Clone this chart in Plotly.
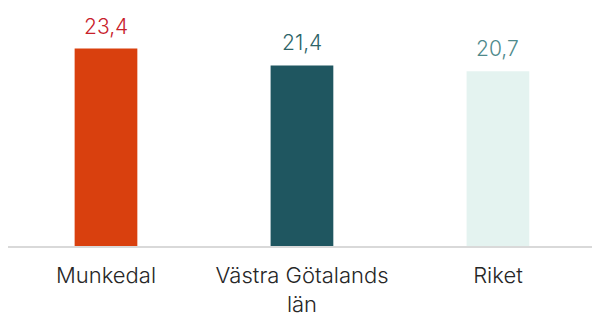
import plotly.graph_objects as go

categories = ["Munkedal", "Västra Götalands<br>län", "Riket"]
values = [23.4, 21.4, 20.7]
bar_colors = ["#D9400E", "#1F5660", "#E4F3F0"]
label_colors = ["#C8202A", "#2D6468", "#4F8A8C"]

FONT = "Inter"

fig = go.Figure()
fig.add_trace(go.Bar(
    x=categories, y=values, marker=dict(color=bar_colors, line=dict(width=0)),
    width=0.32, hoverinfo="skip",
))
for c, v, col in zip(categories, values, label_colors):
    fig.add_annotation(x=c, y=v, text=f"{v:.1f}".replace(".", ","), showarrow=False,
                       yanchor="bottom", yshift=8,
                       font=dict(size=21, color=col, family=FONT, weight=300))

fig.update_layout(
    width=592, height=316,
    margin=dict(l=8, r=0, t=35, b=70, autoexpand=False),
    plot_bgcolor="white", paper_bgcolor="white",
    showlegend=False,
    font=dict(family=FONT, size=22, color="#262626", weight=300),
    xaxis=dict(range=[-0.5, 2.48], showline=True, linecolor="#D9D9D9", linewidth=1.5,
               showgrid=False, zeroline=False, ticks="", ticklabelstandoff=9,
               automargin=False,
               tickfont=dict(size=22, color="#262626", family=FONT, weight=300)),
    yaxis=dict(range=[0, 25], visible=False, showgrid=False, zeroline=False, automargin=False),
)
fig.write_html("out.html", post_script="document.body.style.margin='0';",
               config={"displayModeBar": False})
